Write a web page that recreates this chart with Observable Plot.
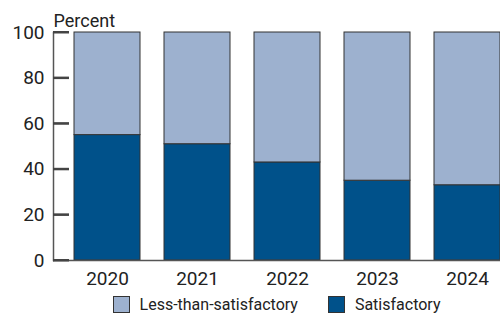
<!DOCTYPE html>
<html>
<head>
<meta charset="utf-8">
<script src="https://cdn.jsdelivr.net/npm/d3@7"></script>
<script src="https://cdn.jsdelivr.net/npm/@observablehq/plot@0.6"></script>
<style>
  html, body { margin: 0; padding: 0; background: #fff; }
  #chart { width: 500px; font-family: Roboto, "Liberation Sans", sans-serif; }
  .legend { display: flex; align-items: center; justify-content: center; padding-left: 53px; height: 25px; margin-top: 0; font-size: 16px; color: #222; }
  .legend .item { display: flex; align-items: center; margin: 0 15px; }
  .legend .sw { width: 15px; height: 15px; border: 1px solid #333; margin-right: 10px; }
</style>
</head>
<body>
<div id="chart"></div>
<script>
const years = ["2020", "2021", "2022", "2023", "2024"];
const satisfactory = [55, 51, 43, 35, 33];
const lessThanSatisfactory = [45, 49, 57, 65, 67];
const seriesNames = ["Satisfactory", "Less-than-satisfactory"];
const seriesColors = ["#00518a", "#9db1cf"];
const yTicks = [0, 20, 40, 60, 80, 100];

const W = 500, ML = 53, MR = 0, TICK = 16;

const rows = [];
years.forEach((y, i) => {
  rows.push({year: y, series: seriesNames[0], value: satisfactory[i]});
  rows.push({year: y, series: seriesNames[1], value: lessThanSatisfactory[i]});
});

const plot = Plot.plot({
  width: W,
  height: 292,
  marginLeft: ML,
  marginRight: MR,
  marginTop: 32,
  marginBottom: 32,
  style: {fontFamily: "Roboto, 'Liberation Sans', sans-serif", fontSize: "19px", color: "#222"},
  x: {domain: years, paddingInner: 0.2687, paddingOuter: 0.1108, align: 1, label: null},
  y: {domain: [0, 100], label: null},
  color: {domain: seriesNames, range: seriesColors},
  marks: [
    Plot.barY(rows, {x: "year", y: "value", fill: "series", order: seriesNames, stroke: "#333", strokeWidth: 1}),
    Plot.frame({anchor: "left", stroke: "#555", strokeWidth: 1.5}),
    Plot.ruleY([0], {stroke: "#555", strokeWidth: 1.5}),
    Plot.tickY(yTicks, {y: d => d, insetRight: W - ML - MR - TICK, stroke: "#444", strokeWidth: 2}),
    Plot.axisY(yTicks, {tickSize: 0, tickPadding: 9, label: null, fontSize: 19, fill: "#222"}),
    Plot.axisX({tickSize: 0, tickPadding: 11, fontSize: 19, fill: "#222"}),
    Plot.text(["Percent"], {frameAnchor: "top-left", text: d => d, textAnchor: "start", lineAnchor: "bottom", dy: -6, fontSize: 18, fill: "#222"})
  ]
});

const chart = document.getElementById("chart");
chart.appendChild(plot);

// make sure inward tick lines are drawn (positions come from Plot's y scale)
const yScale = plot.scale("y");
const svg = d3.select(plot);
const tg = svg.append("g").attr("stroke", "#444").attr("stroke-width", 2);
yTicks.forEach(t => {
  const yy = yScale.apply(t);
  tg.append("line").attr("x1", ML).attr("x2", ML + TICK).attr("y1", yy).attr("y2", yy);
});

const legend = document.createElement("div");
legend.className = "legend";
[1, 0].forEach(i => {
  const item = document.createElement("div");
  item.className = "item";
  const sw = document.createElement("div");
  sw.className = "sw";
  sw.style.background = seriesColors[i];
  const label = document.createElement("span");
  label.textContent = seriesNames[i];
  item.appendChild(sw);
  item.appendChild(label);
  legend.appendChild(item);
});
chart.appendChild(legend);
</script>
</body>
</html>
